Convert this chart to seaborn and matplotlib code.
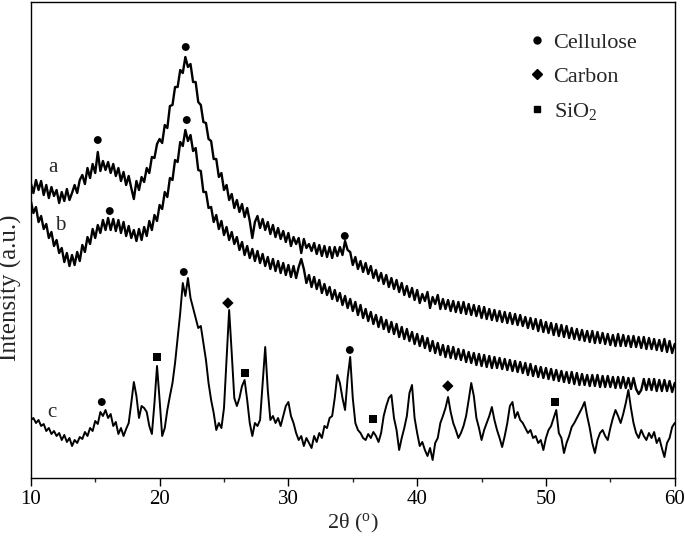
import numpy as np
import pandas as pd
import matplotlib
matplotlib.use("Agg")
import matplotlib.pyplot as plt
import seaborn as sns
from matplotlib.lines import Line2D
from matplotlib.ticker import MultipleLocator

# ---------------- data ----------------
two_theta = np.round(np.arange(10, 60.0001, 0.2), 1)   # 251 points, 10..60 step 0.2

int_a = [
    295, 285, 298, 288, 297, 283, 293, 280, 291, 282,
    288, 275, 286, 277, 289, 278, 285, 293, 285, 298,
    303, 294, 310, 300, 314, 305, 326, 307, 317, 308,
    316, 305, 314, 302, 310, 297, 306, 293, 302, 290,
    279, 297, 288, 301, 296, 310, 305, 321, 320, 334,
    339, 335, 353, 350, 372, 373, 391, 391, 408, 405,
    421, 411, 414, 396, 396, 376, 373, 356, 355, 339,
    337, 319, 319, 301, 305, 288, 293, 278, 284, 270,
    278, 266, 274, 261, 270, 257, 240, 256, 262, 250,
    259, 248, 256, 244, 253, 241, 250, 239, 247, 236,
    245, 232, 241, 234, 240, 225, 239, 230, 234, 227,
    235, 224, 233, 222, 232, 221, 231, 220, 231, 222,
    231, 223, 237, 228, 226, 213, 221, 209, 217, 206,
    215, 204, 212, 200, 208, 197, 205, 194, 203, 191,
    200, 189, 198, 186, 195, 183, 192, 181, 190, 178,
    188, 175, 184, 177, 186, 170, 181, 174, 183, 169,
    179, 169, 178, 167, 177, 166, 176, 165, 176, 164,
    174, 163, 173, 162, 172, 160, 171, 159, 169, 158,
    168, 157, 167, 156, 166, 155, 165, 154, 164, 153,
    163, 152, 161, 150, 160, 149, 159, 147, 158, 146,
    156, 145, 155, 143, 154, 142, 153, 141, 152, 140,
    150, 139, 149, 138, 148, 137, 147, 136, 147, 135,
    146, 135, 145, 134, 144, 133, 143, 132, 144, 132,
    143, 132, 142, 131, 142, 131, 141, 130, 141, 129,
    140, 129, 139, 128, 138, 127, 139, 126, 137, 125,
    134,
]

int_b = [
    277, 265, 271, 256, 262, 249, 254, 240, 246, 232,
    238, 225, 230, 216, 225, 212, 223, 213, 226, 217,
    233, 226, 241, 234, 249, 240, 253, 245, 258, 248,
    260, 248, 259, 247, 258, 245, 256, 242, 252, 240,
    248, 237, 249, 238, 251, 242, 257, 248, 263, 257,
    273, 269, 286, 281, 300, 298, 318, 316, 336, 332,
    348, 337, 343, 327, 330, 308, 307, 286, 286, 270,
    271, 256, 263, 249, 257, 243, 251, 238, 246, 234,
    241, 228, 236, 223, 232, 220, 229, 217, 227, 215,
    224, 212, 221, 209, 219, 207, 217, 205, 215, 203,
    213, 201, 212, 200, 211, 219, 209, 195, 203, 191,
    201, 189, 198, 185, 194, 183, 191, 179, 188, 177,
    185, 173, 182, 170, 179, 167, 176, 163, 173, 160,
    169, 157, 166, 154, 163, 151, 161, 149, 158, 146,
    156, 144, 154, 141, 151, 139, 149, 137, 146, 134,
    144, 132, 142, 130, 140, 127, 137, 125, 135, 123,
    133, 121, 132, 120, 131, 119, 129, 118, 128, 116,
    126, 115, 125, 113, 124, 112, 123, 111, 122, 110,
    121, 110, 120, 109, 119, 108, 118, 107, 117, 106,
    116, 105, 115, 103, 114, 102, 112, 101, 111, 100,
    110, 99, 109, 98, 108, 97, 107, 96, 106, 95,
    106, 94, 105, 93, 104, 93, 103, 92, 103, 92,
    103, 91, 102, 91, 102, 91, 101, 90, 101, 90,
    101, 90, 100, 89, 100, 89, 84, 88, 99, 88,
    99, 88, 99, 87, 98, 87, 98, 87, 97, 86,
    95,
]

int_c = [
    58, 60, 55, 58, 52, 54, 47, 50, 44, 47,
    42, 45, 38, 43, 36, 40, 32, 38, 35, 41,
    39, 46, 42, 50, 47, 57, 54, 66, 62, 68,
    60, 64, 52, 56, 44, 50, 42, 49, 55, 75,
    96, 82, 60, 72, 70, 66, 52, 44, 75, 112,
    78, 42, 50, 68, 82, 95, 115, 140, 165, 195,
    182, 200, 180, 170, 160, 150, 152, 135, 118, 95,
    78, 65, 48, 55, 50, 70, 120, 168, 125, 80,
    72, 80, 92, 98, 78, 55, 42, 55, 52, 58,
    95, 131, 88, 58, 62, 55, 60, 52, 62, 72,
    76, 62, 55, 45, 38, 42, 32, 40, 35, 30,
    42, 36, 45, 40, 52, 50, 60, 62, 80, 103,
    95, 80, 68, 100, 121, 80, 55, 48, 45, 40,
    38, 44, 40, 46, 42, 36, 45, 62, 72, 80,
    83, 60, 48, 28, 40, 50, 62, 85, 93, 60,
    45, 32, 36, 28, 22, 30, 18, 35, 40, 55,
    62, 70, 81, 66, 55, 48, 40, 45, 52, 62,
    78, 95, 82, 60, 50, 38, 48, 55, 62, 71,
    58, 48, 40, 31, 42, 55, 72, 76, 60, 66,
    58, 55, 50, 45, 48, 40, 42, 35, 38, 28,
    40, 48, 52, 60, 68, 45, 40, 25, 35, 42,
    51, 55, 60, 65, 70, 76, 62, 50, 35, 25,
    38, 45, 48, 42, 38, 50, 60, 68, 62, 55,
    64, 75, 88, 70, 55, 45, 40, 48, 42, 38,
    45, 40, 46, 35, 40, 30, 21, 35, 40, 51,
    55,
]

cellulose_x = [15.2, 22.03, 34.38, 16.13, 22.11, 15.51, 21.88, 34.77]
cellulose_y = [338, 431, 242, 267, 358, 76, 206, 128]
carbon_x = [25.30, 42.38]
carbon_y = [175, 92]
sio2_x = [19.78, 26.61, 36.55, 50.68]
sio2_y = [121, 105, 59, 76]

curve_names = ["a", "b", "c"]
curve_label_x = [11.7, 12.25, 11.6]
curve_label_y = [311, 253, 66]

legend_labels = ["Cellulose", "Carbon", "SiO$_2$"]
x_ticks = [10, 20, 30, 40, 50, 60]

assert len(int_a) == len(int_b) == len(int_c) == len(two_theta)

# ---------------- styling ----------------
sns.set_style("ticks")
plt.rcParams["font.family"] = ["Liberation Serif", "DejaVu Serif"]
plt.rcParams["mathtext.fontset"] = "custom"
plt.rcParams["mathtext.rm"] = "Liberation Serif"
plt.rcParams["mathtext.it"] = "Liberation Serif:italic"
plt.rcParams["mathtext.bf"] = "Liberation Serif:bold"

fig = plt.figure(figsize=(6.85, 5.43), dpi=100)
ax = fig.add_axes([0.045, 0.1197, 0.94, 0.8766])

df = pd.DataFrame({
    "two_theta": np.tile(two_theta, 3),
    "intensity": int_a + int_b + int_c,
    "sample": sum([[n] * len(two_theta) for n in curve_names], []),
})
line_widths = {"a": 1.7, "b": 1.7, "c": 1.4}
for name in curve_names:
    sub = df[df["sample"] == name]
    sns.lineplot(data=sub, x="two_theta", y="intensity", estimator=None,
                 color="black", linewidth=line_widths[name], ax=ax, legend=False)

sns.scatterplot(x=cellulose_x, y=cellulose_y, marker="o", s=32, color="black",
                edgecolor="none", ax=ax, legend=False)
sns.scatterplot(x=carbon_x, y=carbon_y, marker="D", s=34, color="black",
                edgecolor="none", ax=ax, legend=False)
sns.scatterplot(x=sio2_x, y=sio2_y, marker="s", s=34, color="black",
                edgecolor="none", ax=ax, legend=False)

for name, lx, ly in zip(curve_names, curve_label_x, curve_label_y):
    ax.text(lx, ly, name, fontsize=15, ha="center", va="center")

handles = [
    Line2D([], [], marker="o", ls="none", color="black", markersize=5),
    Line2D([], [], marker="D", ls="none", color="black", markersize=5),
    Line2D([], [], marker="s", ls="none", color="black", markersize=5),
]
ax.legend(handles, legend_labels, loc="upper left", bbox_to_anchor=(0.748, 0.965),
          frameon=False, fontsize=16, handletextpad=0.25, labelspacing=0.62,
          handlelength=1.0, borderaxespad=0.2)

ax.set_xlim(10, 60)
ax.set_ylim(0, 476)
ax.set_xticks(x_ticks)
ax.xaxis.set_minor_locator(MultipleLocator(5))
ax.set_yticks([])
ax.tick_params(axis="x", which="major", direction="out", length=5.5, width=1,
               labelsize=15, pad=3, colors="black")
ax.tick_params(axis="x", which="minor", direction="out", length=3, width=1)
for sp in ax.spines.values():
    sp.set_visible(True)
    sp.set_linewidth(1.0)
    sp.set_color("black")

ax.set_xlabel("2θ ($^{\\rm o}$)", fontsize=16, labelpad=2)
ax.set_ylabel("Intensity (a.u.)", fontsize=18)
ax.yaxis.set_label_coords(-0.014, 0.40)

fig.savefig("out.png", dpi=100)
